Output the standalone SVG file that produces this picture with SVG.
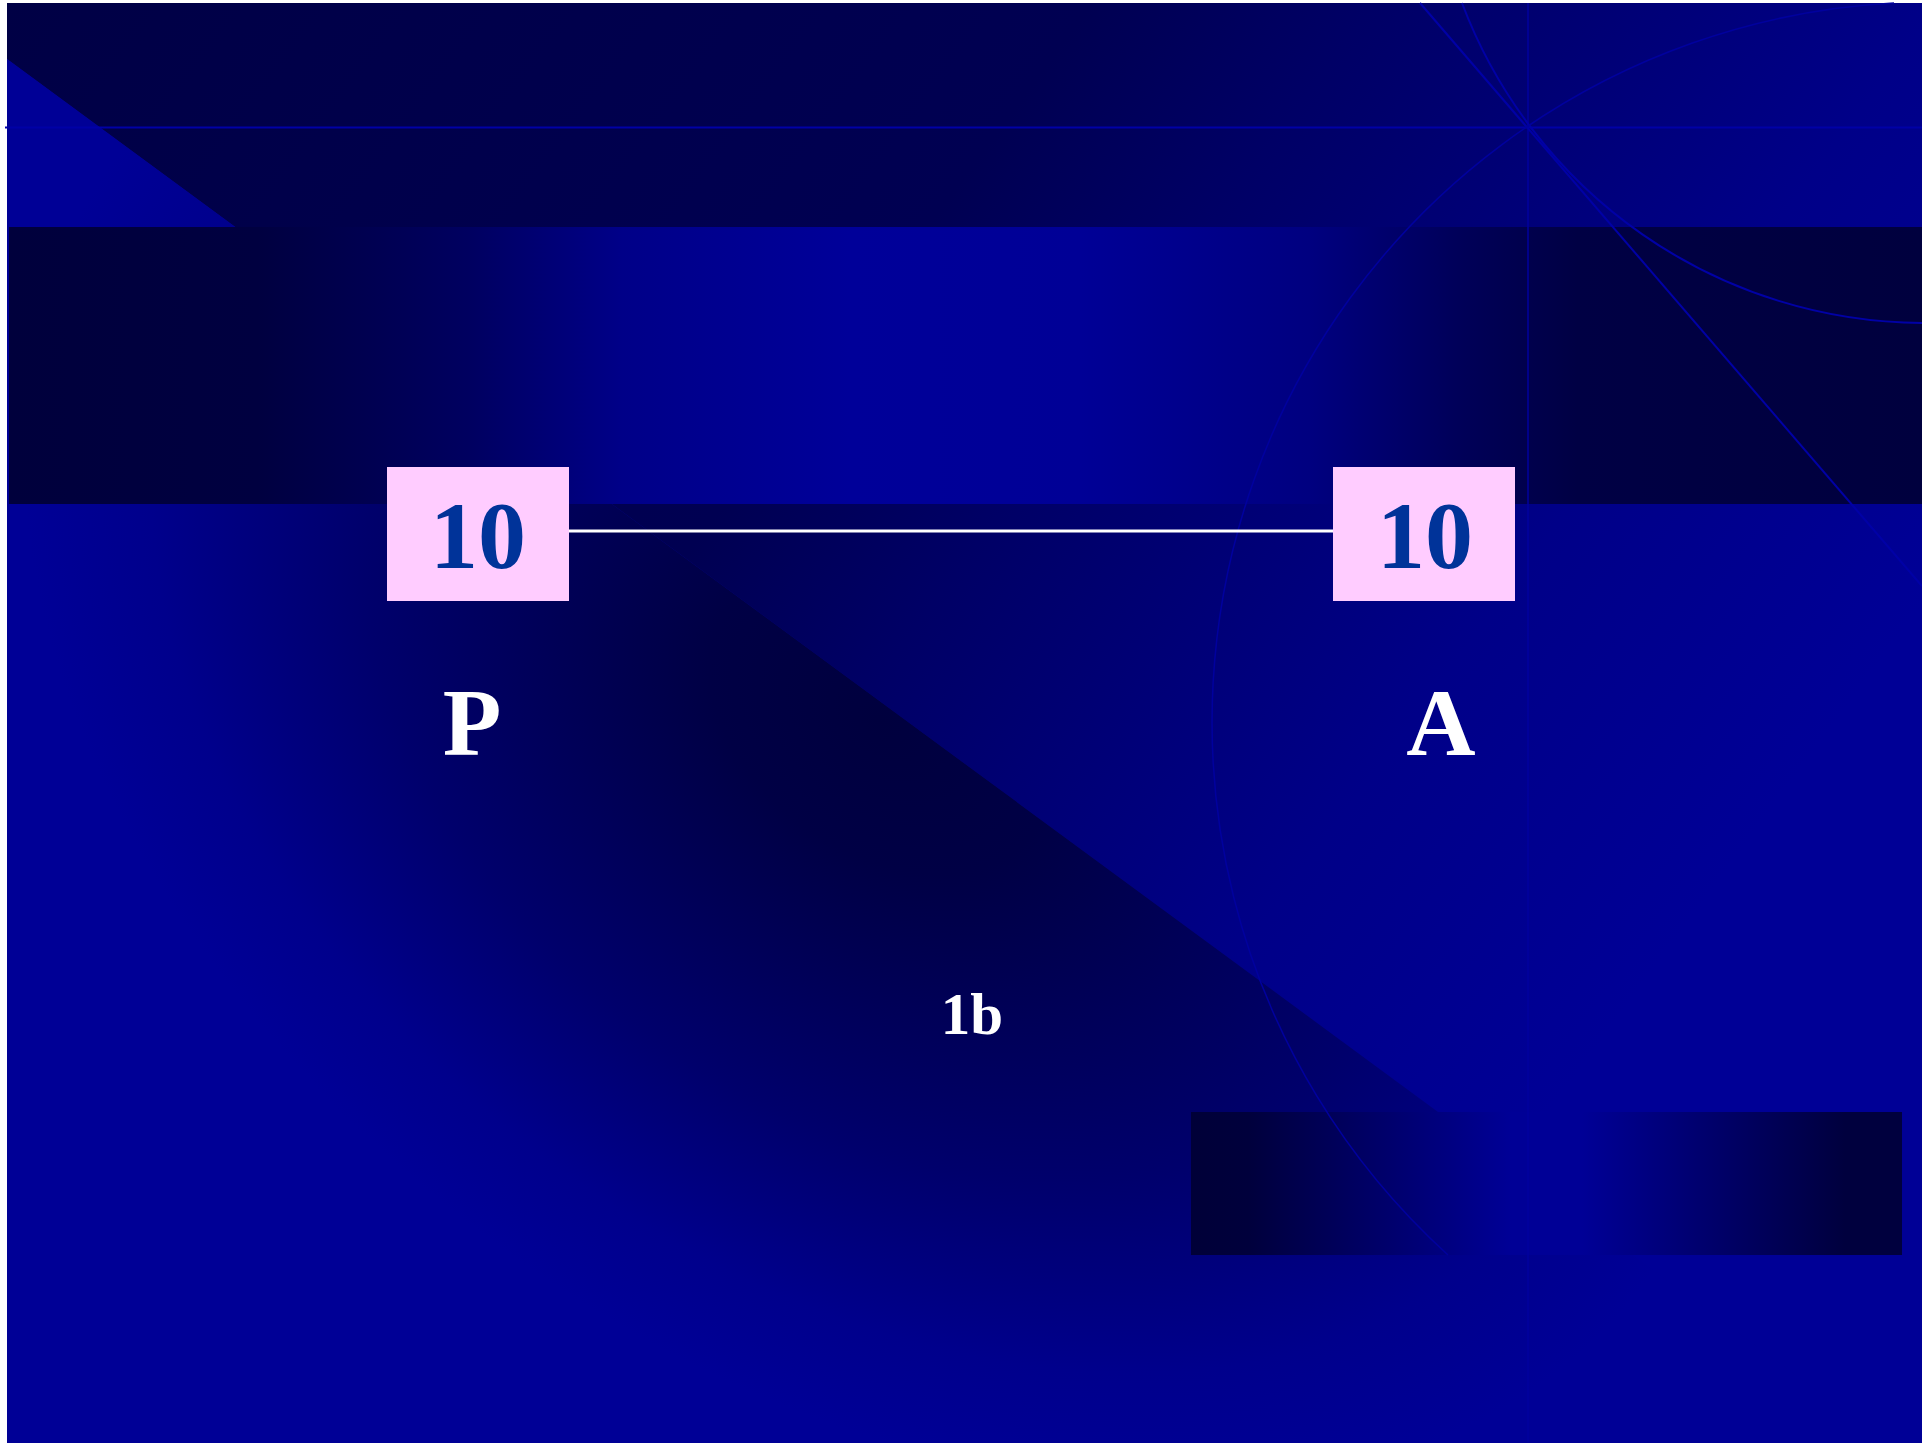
<svg xmlns="http://www.w3.org/2000/svg" width="1922" height="1446" viewBox="0 0 1922 1446">
  <style>
    .box { fill: #ffccff; }
    .num { font-weight: bold; font-size: 96px; fill: #003399; text-anchor: middle; }
    .lbl { font-weight: bold; font-size: 96px; fill: #ffffff; text-anchor: middle; }
    .small { font-size: 59px; }
    .deco { fill: none; stroke: #0000a6; stroke-width: 2; }
    .faint { fill: none; stroke: #00009e; stroke-width: 1.5; }
    .conn { stroke: #ffffff; stroke-width: 3; fill: none; }
  </style>
  <defs>
    <linearGradient id="gUpper" gradientUnits="userSpaceOnUse" x1="7" y1="3" x2="1538" y2="1128">
      <stop offset="0" stop-color="#000045"/>
      <stop offset="0.46" stop-color="#000052"/>
      <stop offset="0.58" stop-color="#000066"/>
      <stop offset="0.82" stop-color="#000088"/>
      <stop offset="1" stop-color="#000096"/>
    </linearGradient>
    <radialGradient id="gLower" gradientUnits="userSpaceOnUse" cx="0" cy="0" r="1" gradientTransform="translate(880 720) rotate(36.3) scale(950 650)">
      <stop offset="0" stop-color="#00003e"/>
      <stop offset="0.2" stop-color="#000045"/>
      <stop offset="0.6" stop-color="#00006c"/>
      <stop offset="0.85" stop-color="#00008c"/>
      <stop offset="1" stop-color="#000096"/>
    </radialGradient>
    <linearGradient id="gBand" gradientUnits="userSpaceOnUse" x1="9" y1="0" x2="1922" y2="0">
      <stop offset="0" stop-color="#00003c"/>
      <stop offset="0.13" stop-color="#000040"/>
      <stop offset="0.24" stop-color="#000060"/>
      <stop offset="0.32" stop-color="#000088"/>
      <stop offset="0.44" stop-color="#000099"/>
      <stop offset="0.56" stop-color="#000096"/>
      <stop offset="0.68" stop-color="#000080"/>
      <stop offset="0.76" stop-color="#000058"/>
      <stop offset="0.82" stop-color="#000044"/>
      <stop offset="1" stop-color="#00003e"/>
    </linearGradient>
    <linearGradient id="gRect" gradientUnits="objectBoundingBox" x1="0" y1="0" x2="1" y2="0">
      <stop offset="0" stop-color="#000038"/>
      <stop offset="0.08" stop-color="#00003c"/>
      <stop offset="0.45" stop-color="#000096"/>
      <stop offset="0.55" stop-color="#000096"/>
      <stop offset="0.92" stop-color="#00003e"/>
      <stop offset="1" stop-color="#00003e"/>
    </linearGradient>
  </defs>

  <rect x="0" y="0" width="1922" height="1446" fill="#ffffff"/>

  <g id="background">
    <rect x="7" y="3" width="1915" height="1440" fill="#000094"/>
    <polygon points="7,3 1922,3 1922,1443 1888,1443 7,59" fill="url(#gUpper)"/>
    <polygon points="7,59 1888,1443 7,1443" fill="url(#gLower)"/>
    <rect x="9" y="227" width="1913" height="277" fill="url(#gBand)"/>
    <rect x="1191" y="1112" width="711" height="143" fill="url(#gRect)"/>
    <line class="deco" x1="5" y1="127.5" x2="1922" y2="127.5"/>
    <line class="faint" x1="1528" y1="3" x2="1528" y2="1443"/>
    <line class="deco" x1="1420" y1="3" x2="1922" y2="586"/>
    <path class="deco" d="M1462,3 A495,495 0 0 0 1922,323"/>
    <path class="faint" d="M1894,3 A720,720 0 0 0 1448,1255"/>
  </g>

  <g id="connectors">
    <line class="conn" x1="569" y1="531" x2="1333" y2="531"/>
  </g>

  <g id="node-left">
    <rect class="box" x="387" y="467" width="182" height="134"/>
    <text class="num" font-family="Liberation Serif, serif" x="478" y="568">10</text>
  </g>
  <g id="node-right">
    <rect class="box" x="1333" y="467" width="182" height="134"/>
    <text class="num" font-family="Liberation Serif, serif" x="1425" y="568">10</text>
  </g>
  <g id="label-P">
    <text class="lbl" font-family="Liberation Serif, serif" x="472" y="755">P</text>
  </g>
  <g id="label-A">
    <text class="lbl" font-family="Liberation Serif, serif" x="1441" y="755">A</text>
  </g>
  <g id="label-1b">
    <text class="lbl small" font-family="Liberation Serif, serif" x="972" y="1034">1b</text>
  </g>
</svg>
